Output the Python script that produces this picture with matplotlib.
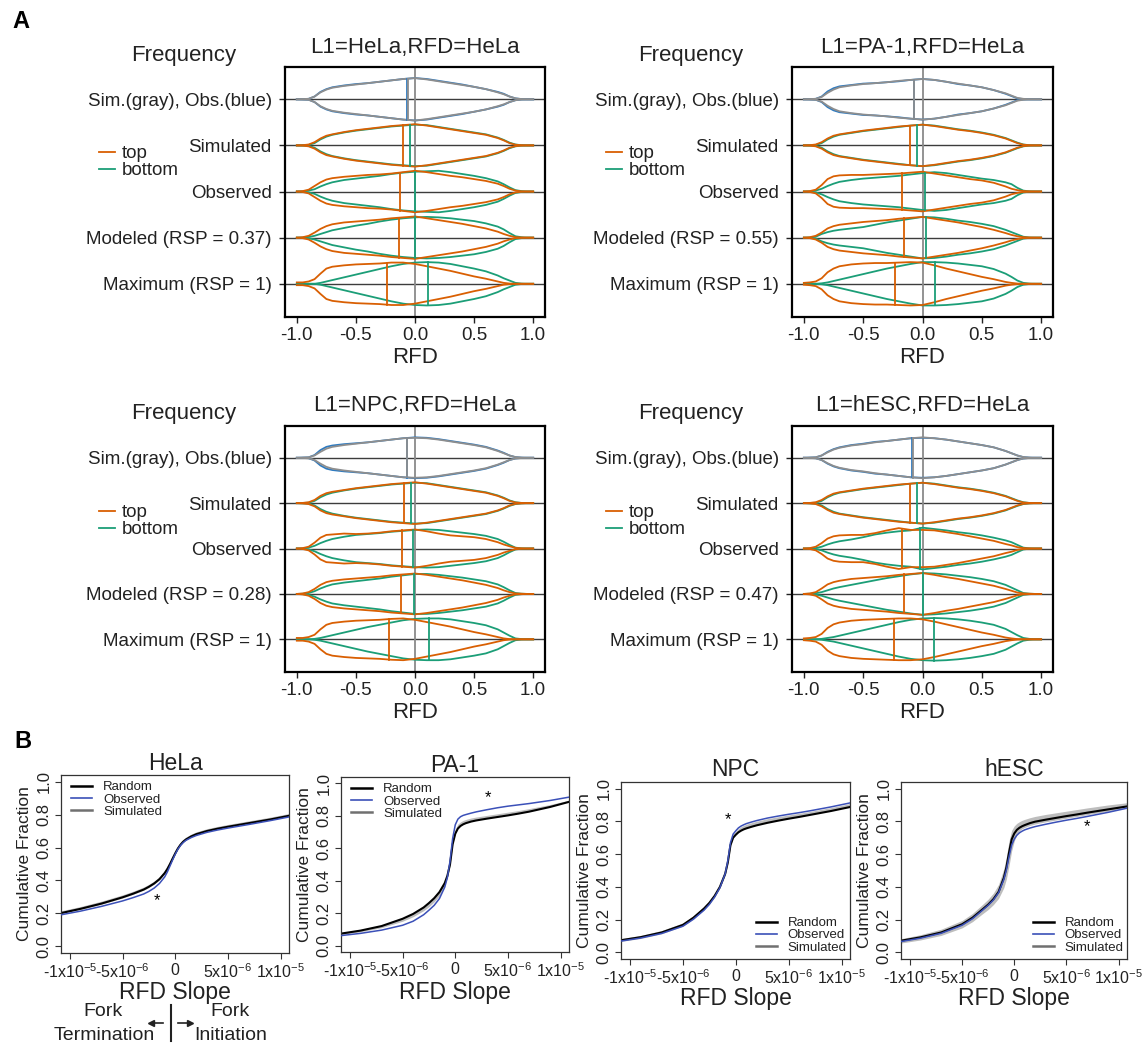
import numpy as np
import matplotlib
matplotlib.use("Agg")
import matplotlib.pyplot as plt
from matplotlib.lines import Line2D

plt.rcParams['font.family'] = ['Liberation Sans', 'DejaVu Sans']
plt.rcParams['mathtext.fontset'] = 'custom'
plt.rcParams['mathtext.rm'] = 'Liberation Sans'
plt.rcParams['mathtext.it'] = 'Liberation Sans:italic'
plt.rcParams['mathtext.bf'] = 'Liberation Sans:bold'

# ---------------- Panel A data ----------------
RFD_GRID = [-1.0, -0.95, -0.9, -0.85, -0.8, -0.75, -0.7, -0.6, -0.5, -0.4, -0.3, -0.2, -0.1,
            0.0, 0.1, 0.2, 0.3, 0.4, 0.5, 0.6, 0.7, 0.75, 0.8, 0.85, 0.9, 0.95, 1.0]
RFD_TICKS = [-1.0, -0.5, 0.0, 0.5, 1.0]
RFD_TICK_LABELS = ["-1.0", "-0.5", "0.0", "0.5", "1.0"]
A_TITLES = ["L1=HeLa,RFD=HeLa", "L1=PA-1,RFD=HeLa", "L1=NPC,RFD=HeLa", "L1=hESC,RFD=HeLa"]
A_RSP = [0.37, 0.55, 0.28, 0.47]

# frequency (relative, % of row spacing) - HeLa
hela_gray = [0,0.5,1,6,15,21,25,29,32,35,38,41,44,46,43,39,35,31,27,22,15,11,6,2,0.5,0,0]
hela_blue = [0,0.5,1,6,16,22,26,30,33,35,38,41,44,46,44,40,36,32,27,22,16,12,6,2,0.5,0,0]
hela_top_sim = [0,0.5,2,7,15,21,24,29,33,36,39,42,44,46,43,39,35,31,27,23,16,11,5,1.5,0.5,0,0]
hela_bot_sim = [0,0.5,1,5,13,19,23,28,32,35,38,41,43,45,44,40,36,32,28,24,17,12,6,2,0.5,0,0]
hela_top_obs = [0,1,4,12,20,26,29,32,34,36,37,39,42,45,42,38,34,31,27,23,17,12,6,2,0.5,0,0]
hela_bot_obs = [0,0.5,2,5,11,16,20,25,28,31,34,38,41,43,44,45,42,38,34,29,22,16,9,3,1,0,0]
hela_top_mod = [0,1,4,11,19,25,29,33,35,37,39,42,44,46,42,38,34,30,25,20,13,8,4,1,0.5,0,0]
hela_bot_mod = [0,0.5,1.5,4,8,12,16,21,26,30,35,39,42,44,45,44,42,39,36,31,24,18,10,3,1,0,0]
hela_top_max = [3,3,5,10,22,33,37,40,42,43,44,46,46,43,38,33,28,22,16,11,5,2,0.5,0,0,0,0]
hela_bot_max = [0,0,0,0,2,5,8,14,20,26,32,38,43,46,47,46,43,38,33,27,18,12,7,2,0.5,0,0]
hela_mean_gray, hela_mean_blue = -0.058, -0.068
hela_mean_top = [-0.105, -0.125, -0.135, -0.235]
hela_mean_bot = [-0.04, 0.0, 0.0, 0.107]

# PA-1
pa1_gray = [0,0.5,1,5,14,21,26,30,33,35,37,40,42,44,42,38,34,30,26,20,13,8,3,1,0,0,0]
pa1_blue = [0,0.5,1,6,17,24,28,31,34,35,37,39,42,44,42,38,33,30,26,20,12,7,2,0.5,0,0,0]
pa1_top_sim = [0,0.5,2,7,15,21,24,28,32,35,38,41,43,45,42,38,34,31,27,22,15,10,5,1.5,0.5,0,0]
pa1_bot_sim = [0,0.5,1,5,13,19,23,27,31,34,37,40,43,45,43,39,35,32,28,23,16,11,6,2,0.5,0,0]
pa1_top_obs = [0,1,4,14,27,33,35,36,36,37,38,39,41,43,39,35,31,27,24,19,11,6,3,1,0.5,0,0]
pa1_bot_obs = [0,0.5,2,6,12,17,21,25,28,30,32,34,37,40,42,40,36,32,28,25,20,16,8,2,0.5,0,0]
pa1_top_mod = [0,1,4,11,20,25,28,31,34,36,38,41,43,45,41,37,33,28,23,17,10,6,3,1,0.5,0,0]
pa1_bot_mod = [0,0.5,2,8,12,15,17,20,23,28,33,37,41,45,44,41,37,34,30,25,17,12,7,2,0.5,0,0]
pa1_top_max = [2,3,5,12,25,33,38,42,44,45,45,46,47,46,40,33,27,21,15,10,4,2,0.5,0,0,0,0]
pa1_bot_max = [0,0,0,1,3,6,9,15,21,27,33,38,43,47,47,46,44,41,38,32,22,15,7,2,0.5,0,0]
pa1_mean_gray, pa1_mean_blue = -0.07, -0.072
pa1_mean_top = [-0.105, -0.17, -0.16, -0.23]
pa1_mean_bot = [-0.05, 0.02, 0.03, 0.107]

# NPC
npc_gray = [0,0.5,1,5,13,20,24,28,31,34,37,40,43,44,43,40,36,32,28,23,15,10,5,1.5,0.5,0,0]
npc_blue = [0,0.5,1,6,17,24,27,30,32,34,37,40,43,45,44,41,37,33,29,24,16,11,5,1.5,0.5,0,0]
npc_top_sim = [0,0.5,2,7,16,22,25,29,33,36,39,42,44,46,43,39,35,31,27,23,16,11,5,1.5,0.5,0,0]
npc_bot_sim = [0,0.5,1,5,13,19,23,28,32,35,38,41,43,45,44,40,36,32,28,24,17,12,6,2,0.5,0,0]
npc_top_obs = [0,1,4,13,24,30,31,33,32,33,35,38,40,42,38,33,29,27,25,21,14,9,5,1.5,0.5,0,0]
npc_bot_obs = [0,0.5,2,6,12,17,21,26,30,32,34,37,39,41,42,41,38,35,32,28,21,15,8,2,0.5,0,0]
npc_top_mod = [0,1,4,11,20,26,29,32,34,36,38,41,43,45,42,38,34,30,25,20,13,8,4,1,0.5,0,0]
npc_bot_mod = [0,0.5,2,6,12,17,21,25,28,31,34,38,41,44,44,42,39,36,32,28,21,15,8,2,0.5,0,0]
npc_top_max = [3,3,5,10,22,32,36,39,41,42,43,45,46,43,38,33,28,22,16,11,5,2,0.5,0,0,0,0]
npc_bot_max = [0,0,0,1,3,6,9,15,21,27,32,37,42,45,46,46,44,40,36,31,22,15,8,2,0.5,0,0]
npc_mean_gray, npc_mean_blue = -0.065, -0.068
npc_mean_top = [-0.097, -0.106, -0.115, -0.22]
npc_mean_bot = [-0.03, -0.015, -0.01, 0.115]

# hESC
hesc_gray = [0,0.5,1,5,12,18,22,27,30,34,37,40,43,45,43,40,36,32,28,23,15,10,5,1.5,0.5,0,0]
hesc_blue = [0,0.5,1,5,13,19,23,28,31,35,37,40,43,44,43,40,36,32,28,23,15,10,5,1.5,0.5,0,0]
hesc_top_sim = [0,0.5,2,7,15,21,24,28,32,35,38,41,43,45,42,38,34,31,27,22,15,10,5,1.5,0.5,0,0]
hesc_bot_sim = [0,0.5,1,5,13,19,23,27,31,34,37,40,43,45,43,39,35,32,28,23,16,11,6,2,0.5,0,0]
hesc_top_obs = [0,1,4,12,22,27,29,30,30,34,40,45,41,41,40,36,32,27,22,17,10,7,3,1,0.5,0,0]
hesc_bot_obs = [0,0.5,1,4,9,13,16,20,25,31,35,38,40,46,43,40,36,33,29,24,18,14,8,2,0.5,0,0]
hesc_top_mod = [0,1,4,12,21,26,29,33,35,37,39,42,44,46,42,37,33,28,23,18,11,7,3,1,0.5,0,0]
hesc_bot_mod = [0,0.5,1.5,4,8,12,15,20,25,30,35,39,43,46,45,43,40,37,33,28,20,14,8,2,0.5,0,0]
hesc_top_max = [2,3,5,12,25,33,37,41,43,44,45,46,46,44,39,33,27,21,15,10,4,2,0.5,0,0,0,0]
hesc_bot_max = [0,0,0,1,3,5,8,14,20,26,32,38,43,46,47,46,44,41,37,32,23,16,9,3,1,0,0]
hesc_mean_gray, hesc_mean_blue = -0.076, -0.09
hesc_mean_top = [-0.104, -0.17, -0.155, -0.237]
hesc_mean_bot = [-0.048, -0.02, 0.0, 0.10]

# ---------------- Panel B data ----------------
B_TITLES = ["HeLa", "PA-1", "NPC", "hESC"]
SLOPE_GRID = [-1.1, -0.9, -0.7, -0.5, -0.4, -0.3, -0.25, -0.2, -0.15, -0.1, -0.075, -0.05, -0.025,
              0.0, 0.025, 0.05, 0.075, 0.1, 0.15, 0.2, 0.3, 0.4, 0.5, 0.6, 0.7, 0.9, 1.1]  # x 1e-5
SLOPE_TICKS = [-1e-5, -5e-6, 0, 5e-6, 1e-5]
SLOPE_TICK_LABELS = [r"-1x10$^{-5}$", r"-5x10$^{-6}$", "0", r"5x10$^{-6}$", r"1x10$^{-5}$"]
CUM_TICKS = [0.0, 0.2, 0.4, 0.6, 0.8, 1.0]
CUM_TICK_LABELS = ["0.0", "0.2", "0.4", "0.6", "0.8", "1.0"]

hela_random = [0.200,0.228,0.260,0.298,0.320,0.345,0.362,0.382,0.408,0.445,0.470,0.500,0.533,
               0.565,0.594,0.617,0.635,0.648,0.667,0.681,0.700,0.714,0.726,0.737,0.748,0.770,0.795]
hela_observed = [0.190,0.214,0.243,0.276,0.296,0.318,0.334,0.354,0.382,0.422,0.452,0.488,0.525,
                 0.560,0.590,0.613,0.630,0.643,0.660,0.673,0.692,0.706,0.718,0.729,0.740,0.763,0.788]
hela_sim_lo = [0.196,0.224,0.256,0.294,0.316,0.341,0.358,0.378,0.404,0.441,0.466,0.496,0.529,
               0.562,0.592,0.616,0.635,0.649,0.669,0.683,0.703,0.717,0.729,0.740,0.751,0.772,0.796]
hela_sim_hi = [0.214,0.242,0.275,0.313,0.335,0.360,0.377,0.397,0.424,0.461,0.487,0.518,0.551,
               0.583,0.611,0.633,0.650,0.663,0.681,0.695,0.714,0.728,0.740,0.751,0.762,0.784,0.809]

pa1_random = [0.072,0.092,0.120,0.165,0.195,0.235,0.262,0.292,0.330,0.385,0.430,0.500,0.625,
              0.690,0.722,0.738,0.748,0.755,0.765,0.772,0.783,0.793,0.803,0.814,0.826,0.855,0.890]
pa1_observed = [0.060,0.075,0.095,0.125,0.150,0.190,0.218,0.248,0.290,0.360,0.420,0.520,0.660,
                0.745,0.780,0.795,0.803,0.808,0.817,0.825,0.838,0.850,0.860,0.868,0.876,0.895,0.918]
pa1_sim_lo = [0.066,0.085,0.110,0.150,0.178,0.215,0.240,0.270,0.308,0.368,0.418,0.495,0.625,
              0.692,0.728,0.745,0.755,0.762,0.772,0.779,0.790,0.800,0.810,0.821,0.832,0.860,0.892]
pa1_sim_hi = [0.078,0.098,0.126,0.170,0.200,0.240,0.266,0.296,0.334,0.392,0.440,0.515,0.650,
              0.718,0.750,0.763,0.772,0.778,0.787,0.793,0.803,0.813,0.823,0.833,0.845,0.870,0.900]

npc_random = [0.073,0.093,0.122,0.168,0.212,0.268,0.302,0.345,0.400,0.480,0.550,0.655,0.700,
              0.718,0.733,0.743,0.751,0.757,0.767,0.776,0.791,0.804,0.816,0.827,0.839,0.863,0.890]
npc_observed = [0.068,0.088,0.116,0.160,0.203,0.258,0.293,0.338,0.395,0.480,0.560,0.670,0.722,
                0.742,0.760,0.771,0.779,0.786,0.796,0.805,0.820,0.832,0.843,0.853,0.864,0.888,0.915]
npc_sim_lo = [0.066,0.085,0.114,0.160,0.204,0.260,0.294,0.337,0.392,0.472,0.545,0.650,0.700,
              0.720,0.736,0.747,0.755,0.761,0.771,0.780,0.795,0.808,0.820,0.831,0.843,0.867,0.894]
npc_sim_hi = [0.083,0.104,0.134,0.180,0.224,0.280,0.314,0.357,0.412,0.492,0.565,0.668,0.718,
              0.738,0.756,0.767,0.775,0.782,0.792,0.801,0.816,0.828,0.839,0.849,0.860,0.884,0.911]

hesc_random = [0.070,0.092,0.122,0.172,0.212,0.265,0.292,0.325,0.370,0.455,0.520,0.610,0.690,
               0.726,0.748,0.761,0.770,0.777,0.789,0.798,0.810,0.821,0.832,0.842,0.853,0.873,0.893]
hesc_observed = [0.065,0.087,0.117,0.166,0.206,0.260,0.288,0.320,0.365,0.445,0.505,0.585,0.655,
                 0.692,0.715,0.730,0.740,0.748,0.759,0.768,0.782,0.795,0.807,0.818,0.830,0.855,0.883]
hesc_sim_lo = [0.056,0.076,0.104,0.150,0.188,0.238,0.262,0.292,0.330,0.395,0.450,0.530,0.620,
               0.680,0.720,0.742,0.755,0.763,0.775,0.784,0.797,0.808,0.819,0.830,0.841,0.862,0.883]
hesc_sim_hi = [0.082,0.108,0.142,0.195,0.238,0.295,0.325,0.362,0.415,0.510,0.585,0.680,0.745,
               0.772,0.788,0.798,0.806,0.812,0.822,0.830,0.842,0.852,0.862,0.872,0.882,0.900,0.915]

B_STARS = [(-0.17e-5, 0.28), (0.31e-5, 0.915), (-0.07e-5, 0.81), (0.70e-5, 0.77)]

# ---------------- figure ----------------
W, H = 1145, 1048
fig = plt.figure(figsize=(W / 100, H / 100), dpi=100)


def box(l, t, r, b):
    return [l / W, 1 - b / H, (r - l) / W, (b - t) / H]


def ftext(x, y, s, **kw):
    fig.text(x / W, 1 - y / H, s, **kw)


ORANGE = "#D95F02"
GREEN = "#1B9E77"
BLUE = "#2F7BC0"
GRAY = "#8E8E8E"
SCALE = 0.01


def bean(ax, row, dens, mean, color, lw=1.3):
    x = np.asarray(RFD_GRID)
    d = np.asarray(dens, dtype=float) * SCALE
    ax.plot(x, row + d, color=color, lw=lw, zorder=3, solid_joinstyle='round')
    ax.plot(x, row - d, color=color, lw=lw, zorder=3, solid_joinstyle='round')
    h = np.interp(mean, x, d)
    ax.plot([mean, mean], [row - h, row + h], color=color, lw=lw, zorder=4)


panelsA = [
    dict(gray=hela_gray, blue=hela_blue,
         top=[hela_top_sim, hela_top_obs, hela_top_mod, hela_top_max],
         bot=[hela_bot_sim, hela_bot_obs, hela_bot_mod, hela_bot_max],
         mg=hela_mean_gray, mb=hela_mean_blue, mt=hela_mean_top, mbt=hela_mean_bot),
    dict(gray=pa1_gray, blue=pa1_blue,
         top=[pa1_top_sim, pa1_top_obs, pa1_top_mod, pa1_top_max],
         bot=[pa1_bot_sim, pa1_bot_obs, pa1_bot_mod, pa1_bot_max],
         mg=pa1_mean_gray, mb=pa1_mean_blue, mt=pa1_mean_top, mbt=pa1_mean_bot),
    dict(gray=npc_gray, blue=npc_blue,
         top=[npc_top_sim, npc_top_obs, npc_top_mod, npc_top_max],
         bot=[npc_bot_sim, npc_bot_obs, npc_bot_mod, npc_bot_max],
         mg=npc_mean_gray, mb=npc_mean_blue, mt=npc_mean_top, mbt=npc_mean_bot),
    dict(gray=hesc_gray, blue=hesc_blue,
         top=[hesc_top_sim, hesc_top_obs, hesc_top_mod, hesc_top_max],
         bot=[hesc_bot_sim, hesc_bot_obs, hesc_bot_mod, hesc_bot_max],
         mg=hesc_mean_gray, mb=hesc_mean_blue, mt=hesc_mean_top, mbt=hesc_mean_bot),
]

A_BOXES = [(285, 67, 545, 317), (792, 67, 1053, 317), (285, 426, 545, 672), (792, 426, 1053, 672)]
ROWS = [5, 4, 3, 2, 1]

for i, (p, bx) in enumerate(zip(panelsA, A_BOXES)):
    ax = fig.add_axes(box(*bx))
    ax.set_xlim(-1.1, 1.1)
    ax.set_ylim(0.28, 5.70)
    for r in ROWS:
        ax.axhline(r, color="#3c3c3c", lw=1.0, zorder=1)
    ax.axvline(0, color="#8a8a8a", lw=1.3, zorder=1)
    bean(ax, 5, p['blue'], p['mb'], BLUE)
    bean(ax, 5, p['gray'], p['mg'], GRAY)
    for k, r in enumerate(ROWS[1:]):
        bean(ax, r, p['bot'][k], p['mbt'][k], GREEN)
        bean(ax, r, p['top'][k], p['mt'][k], ORANGE)
    labels = ["Sim.(gray), Obs.(blue)", "Simulated", "Observed",
              "Modeled (RSP = %.2f)" % A_RSP[i], "Maximum (RSP = 1)"]
    ax.set_yticks(ROWS)
    ax.set_yticklabels(labels, fontsize=13.5)
    ax.set_xticks(RFD_TICKS)
    ax.set_xticklabels(RFD_TICK_LABELS, fontsize=13.5)
    ax.tick_params(axis='y', length=4, width=1, pad=5.5, colors='#222222', labelcolor='#222222')
    ax.tick_params(axis='x', length=4, width=1, pad=3, colors='#222222', labelcolor='#222222')
    for s in ax.spines.values():
        s.set_linewidth(1.6)
        s.set_color('black')
    l, t, r_, b = bx
    cx = (l + r_) / 2
    ftext(cx, t - 20, A_TITLES[i], ha='center', va='center', fontsize=16, color='#222222')
    ftext(cx, b + 41, "RFD", ha='center', va='center', fontsize=16, color='#222222')
    ftext(l - 101, t - 12, "Frequency", ha='center', va='center', fontsize=16, color='#222222')
    leg = ax.legend([Line2D([], [], color=ORANGE, lw=1.3), Line2D([], [], color=GREEN, lw=1.3)],
                    ["top", "bottom"], loc='upper left',
                    bbox_to_anchor=((l - 186) / W, 1 - (t + 78) / H),
                    bbox_transform=fig.transFigure, frameon=False, fontsize=13.5,
                    handlelength=0.85, handletextpad=0.35, labelspacing=0.0,
                    borderpad=0, borderaxespad=0)
    for txt in leg.get_texts():
        txt.set_color('#222222')

ftext(21, 22, "A", ha='center', va='center', fontsize=17, fontweight='bold')
ftext(23, 742, "B", ha='center', va='center', fontsize=17, fontweight='bold')

# ---------------- Panel B ----------------
panelsB = [
    (hela_random, hela_observed, hela_sim_lo, hela_sim_hi),
    (pa1_random, pa1_observed, pa1_sim_lo, pa1_sim_hi),
    (npc_random, npc_observed, npc_sim_lo, npc_sim_hi),
    (hesc_random, hesc_observed, hesc_sim_lo, hesc_sim_hi),
]
B_BOXES = [(61, 775, 289, 953), (341, 777, 569, 952), (621, 782, 850, 959), (901, 782, 1127, 959)]
B_LEG = ['upper', 'upper', 'lower', 'lower']
BBLUE = "#3B50B8"

xs = np.asarray(SLOPE_GRID) * 1e-5
for i, ((rnd, obs, lo, hi), bx) in enumerate(zip(panelsB, B_BOXES)):
    ax = fig.add_axes(box(*bx))
    ax.fill_between(xs, lo, hi, color="#BDBDBD", lw=0, zorder=1)
    ax.plot(xs, rnd, color="black", lw=1.5, zorder=2)
    ax.plot(xs, obs, color=BBLUE, lw=1.1, zorder=3)
    ax.set_xlim(-1.085e-5, 1.08e-5)
    ax.set_ylim(-0.04, 1.04)
    ax.set_xticks(SLOPE_TICKS)
    ax.set_xticklabels(SLOPE_TICK_LABELS, fontsize=11.5)
    ax.set_yticks(CUM_TICKS)
    ax.set_yticklabels(CUM_TICK_LABELS, fontsize=12, rotation=90, va='center')
    ax.tick_params(length=4.5, width=0.8, pad=2.5, colors='#333333', labelcolor='#222222')
    for s in ax.spines.values():
        s.set_linewidth(0.9)
        s.set_color('#333333')
    ax.set_ylabel("Cumulative Fraction", fontsize=12.5, labelpad=3, color='#222222')
    sx, sy = B_STARS[i]
    ax.text(sx, sy, "*", ha='center', va='center', fontsize=12)
    l, t, r_, b = bx
    cx = (l + r_) / 2
    ftext(cx, t - 12, B_TITLES[i], ha='center', va='center', fontsize=16.5, color='#222222')
    ftext(cx, b + 40, "RFD Slope", ha='center', va='center', fontsize=16.5, color='#222222')
    handles = [Line2D([], [], color='black', lw=1.8), Line2D([], [], color=BBLUE, lw=1.2),
               Line2D([], [], color='#707070', lw=1.8)]
    if B_LEG[i] == 'upper':
        leg = ax.legend(handles, ["Random", "Observed", "Simulated"], loc='upper left',
                        bbox_to_anchor=(0.045, 0.965), frameon=False, fontsize=9.5,
                        handlelength=1.6, handletextpad=0.8, labelspacing=0.0,
                        borderpad=0, borderaxespad=0)
    else:
        leg = ax.legend(handles, ["Random", "Observed", "Simulated"], loc='lower right',
                        bbox_to_anchor=(0.985, 0.03), frameon=False, fontsize=9.5,
                        handlelength=1.6, handletextpad=0.8, labelspacing=0.0,
                        borderpad=0, borderaxespad=0)
    for txt in leg.get_texts():
        txt.set_color('#222222')

# Fork termination / initiation annotation
ftext(103, 1012, "Fork", ha='center', va='center', fontsize=14, color='#222222')
ftext(104, 1035, "Termination", ha='center', va='center', fontsize=14, color='#222222')
ftext(230, 1012, "Fork", ha='center', va='center', fontsize=14, color='#222222')
ftext(231, 1035, "Initiation", ha='center', va='center', fontsize=14, color='#222222')
fig.add_artist(Line2D([171 / W, 171 / W], [1 - 1005 / H, 1 - 1041 / H], color='#222222', lw=1.5))
fig.add_artist(Line2D([151 / W, 163 / W], [1 - 1023 / H, 1 - 1023 / H], color='#222222', lw=1.2))
fig.add_artist(Line2D([178 / W, 190 / W], [1 - 1023 / H, 1 - 1023 / H], color='#222222', lw=1.2))
fig.add_artist(Line2D([151 / W], [1 - 1023 / H], marker='<', markersize=4, color='#222222'))
fig.add_artist(Line2D([190 / W], [1 - 1023 / H], marker='>', markersize=4, color='#222222'))

fig.savefig("out.png", dpi=100)
